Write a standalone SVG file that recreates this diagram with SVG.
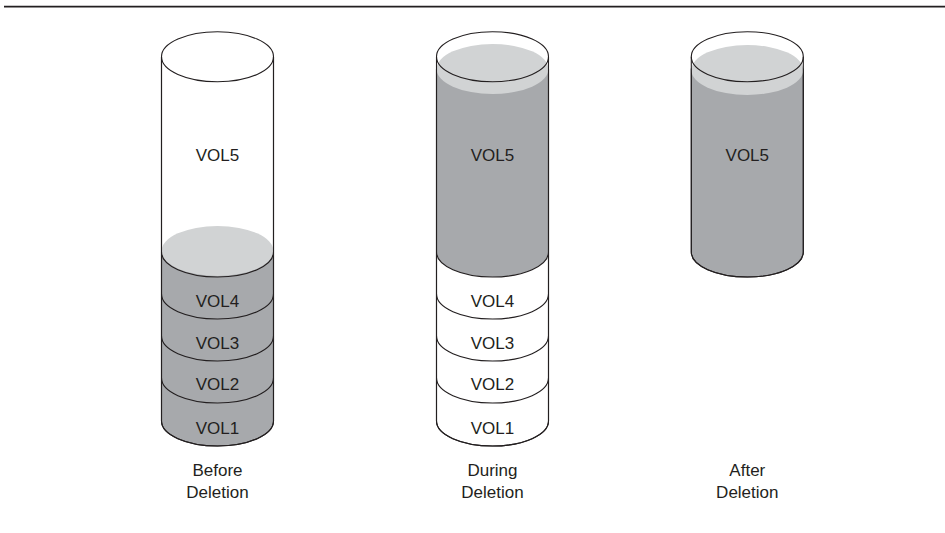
<svg xmlns="http://www.w3.org/2000/svg" width="945" height="533" viewBox="0 0 945 533">
<style>
.o{fill:none;stroke:#231f20;stroke-width:1.1}
.w{fill:#ffffff;stroke:#231f20;stroke-width:1.1}
.d{fill:#a7a9ac;stroke:#231f20;stroke-width:1.1}
.l{fill:#d1d3d4;stroke:none}
.t{font-family:"Liberation Sans",Arial,sans-serif;font-size:17px;fill:#231f20;text-anchor:middle}
</style>
<rect width="945" height="533" fill="#ffffff"/>
<line x1="4" y1="6.6" x2="945" y2="6.6" stroke="#231f20" stroke-width="1.6"/>

<g id="before">
  <path class="w" d="M161.5,56.7 L161.5,251 L273.5,251 L273.5,56.7"/>
  <path class="d" d="M161.5,251 L161.5,421 A56,25 0 0 0 273.5,421 L273.5,251 Z"/>
  <ellipse class="l" cx="217.5" cy="251" rx="56" ry="25"/>
  <path class="o" d="M161.5,252 A56,25 0 0 0 273.5,252"/>
  <path class="o" d="M161.5,294 A56,25 0 0 0 273.5,294"/>
  <path class="o" d="M161.5,336 A56,25 0 0 0 273.5,336"/>
  <path class="o" d="M161.5,378 A56,25 0 0 0 273.5,378"/>
  <path class="o" d="M161.5,56.7 L161.5,421 A56,25 0 0 0 273.5,421 L273.5,56.7"/>
  <ellipse class="o" cx="217.5" cy="56.7" rx="56" ry="25"/>
  <text class="t" x="217.5" y="161">VOL5</text>
  <text class="t" x="217.5" y="307">VOL4</text>
  <text class="t" x="217.5" y="349">VOL3</text>
  <text class="t" x="217.5" y="390">VOL2</text>
  <text class="t" x="217.5" y="434">VOL1</text>
  <text class="t" x="217.5" y="476">Before</text>
  <text class="t" x="217.5" y="498">Deletion</text>
</g>

<g id="during">
  <path class="w" d="M436.5,252 L436.5,421 A56,25 0 0 0 548.5,421 L548.5,252 Z"/>
  <path class="d" d="M436.5,69 L436.5,252 A56,25 0 0 0 548.5,252 L548.5,69 Z"/>
  <ellipse class="l" cx="492.5" cy="69" rx="56" ry="25"/>
  <path class="o" d="M436.5,294 A56,25 0 0 0 548.5,294"/>
  <path class="o" d="M436.5,336 A56,25 0 0 0 548.5,336"/>
  <path class="o" d="M436.5,378 A56,25 0 0 0 548.5,378"/>
  <path class="o" d="M436.5,56.7 L436.5,421 A56,25 0 0 0 548.5,421 L548.5,56.7"/>
  <ellipse class="o" cx="492.5" cy="56.7" rx="56" ry="25"/>
  <text class="t" x="492.5" y="161">VOL5</text>
  <text class="t" x="492.5" y="307">VOL4</text>
  <text class="t" x="492.5" y="349">VOL3</text>
  <text class="t" x="492.5" y="390">VOL2</text>
  <text class="t" x="492.5" y="434">VOL1</text>
  <text class="t" x="492.5" y="476">During</text>
  <text class="t" x="492.5" y="498">Deletion</text>
</g>

<g id="after">
  <path class="d" d="M691.3,69 L691.3,252 A56,25 0 0 0 803.3,252 L803.3,69 Z"/>
  <ellipse class="l" cx="747.3" cy="70" rx="56" ry="25"/>
  <path class="o" d="M691.3,56.7 L691.3,252 A56,25 0 0 0 803.3,252 L803.3,56.7"/>
  <ellipse class="o" cx="747.3" cy="56.7" rx="56" ry="25"/>
  <text class="t" x="747.3" y="161">VOL5</text>
  <text class="t" x="747.3" y="476">After</text>
  <text class="t" x="747.3" y="498">Deletion</text>
</g>
</svg>
